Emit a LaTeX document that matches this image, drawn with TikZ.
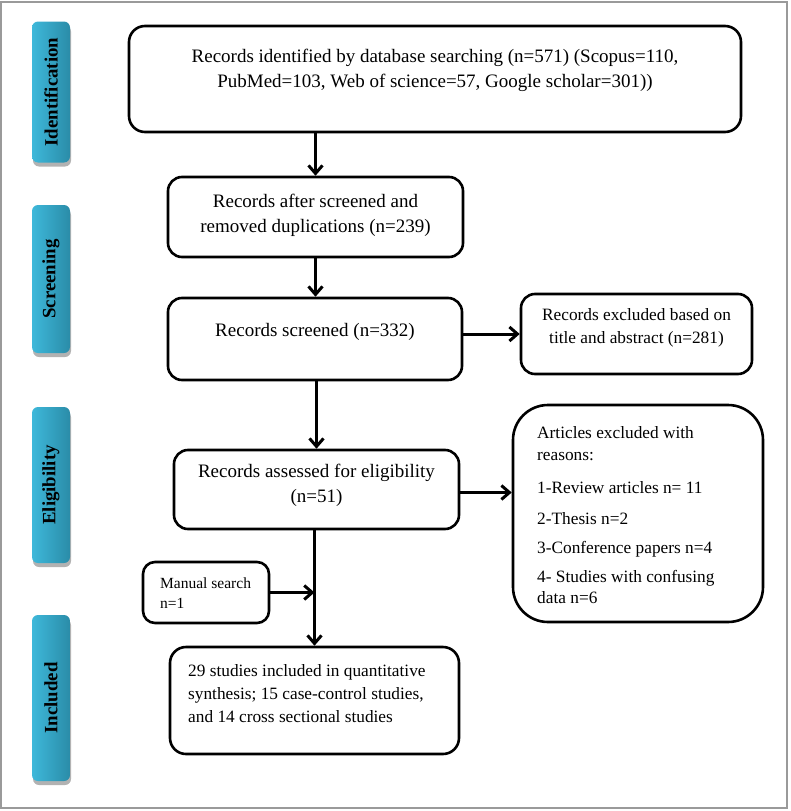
\documentclass[tikz,border=0pt]{standalone}
\usepackage{fontspec}
\setmainfont{Liberation Serif}
\usetikzlibrary{arrows.meta,shadows,calc}
\definecolor{phL}{HTML}{3EB8DA}
\definecolor{phR}{HTML}{2A8CA8}
\definecolor{framegray}{HTML}{9A9A9A}
\begin{document}
\begin{tikzpicture}[x=1pt,y=-1pt,
  box/.style={draw=black, line width=2.6pt, rounded corners=14pt, inner sep=0pt, fill=white},
  phase/.style={rounded corners=6pt, left color=phL, right color=phR, draw=none, minimum width=38pt, inner sep=0pt,
    drop shadow={shadow xshift=1pt, shadow yshift=-4pt, opacity=0.3, fill=black}},
  phtext/.style={rotate=90, inner sep=0pt, font=\fontsize{18.8}{20}\selectfont\bfseries},
  txt/.style={font=\fontsize{19}{25}\selectfont, align=center, inner sep=0pt},
  arr/.style={line width=3pt, -{Straight Barb[length=8pt,width=14pt]}}
]
\useasboundingbox (0,0) rectangle (790,811);
\draw[framegray, line width=1.5pt] (1,2) rectangle (787,808);

% phase labels
\node[phase, minimum height=141pt] (p1) at (51,92) {};
\node[phtext] (p1t) at (p1) {Identification};
\node[phase, minimum height=148pt] (p2) at (51,279) {};
\node[phtext] (p2t) at (p2) {Screening};
\node[phase, minimum height=156pt] (p3) at (51,485) {};
\node[phtext] (p3t) at (p3) {Eligibility};
\node[phase, minimum height=166pt] (p4) at (51,698) {};
\node[phtext] (p4t) at (p4) {Included};

% boxes
\node[box, rounded corners=16pt, minimum width=612pt, minimum height=106pt] (b1) at (435,79) {};
\node[box, minimum width=295pt, minimum height=80pt] (b2) at (315.5,217) {};
\node[box, minimum width=294pt, minimum height=82pt] (b3) at (315,339) {};
\node[box, minimum width=231pt, minimum height=80pt] (b4) at (636.5,334) {};
\node[box, minimum width=285pt, minimum height=79pt] (b5) at (316.5,489.5) {};
\node[box, rounded corners=35pt, minimum width=250pt, minimum height=217pt] (b7) at (638,513.5) {};
\node[box, rounded corners=12pt, minimum width=126pt, minimum height=61pt] (bm) at (206,592.5) {};
\node[box, rounded corners=16pt, minimum width=289pt, minimum height=107pt] (b6) at (314.5,700.5) {};

% texts
\node[txt] (t1) at (435,70.5) {Records identified by database searching (n=571) (Scopus=110,\\PubMed=103, Web of science=57, Google scholar=301))};
\node[txt] (t2) at (315.5,215.5) {Records after screened and\\removed duplications (n=239)};
\node[txt] (t3) at (315,332) {Records screened (n=332)};
\node[txt, font=\fontsize{17.3}{23}\selectfont] (t4) at (636.5,327.5) {Records excluded based on\\title and abstract (n=281)};
\node[txt] (t5) at (316.5,485.5) {Records assessed for eligibility\\(n=51)};
\node[txt, align=left, anchor=west, font=\fontsize{17.3}{21.5}\selectfont] (t7) at (537,515.5)
  {Articles excluded with\\reasons:\\[11.5pt]1-Review articles n= 11\\[9.5pt]2-Thesis n=2\\[7.5pt]3-Conference papers n=4\\[7.5pt]4- Studies with confusing\\data n=6};
\node[txt, align=left, anchor=west, font=\fontsize{15.5}{20}\selectfont] (tm) at (160,593) {Manual search\\n=1};
\node[txt, align=left, anchor=west, font=\fontsize{17.3}{23}\selectfont] (t6) at (188,694)
  {29 studies included in quantitative\\synthesis; 15 case-control studies,\\and 14 cross sectional studies};

% connectors
\draw[arr] (b1.south -| b2.north) -- (b2.north);
\draw[arr] (b2.south) -- (b2.south |- b3.north);
\draw[arr] (b3.east |- b4.west) -- (b4.west);
\draw[arr] (b3.south -| b5.north) -- (b5.north);
\draw[arr] ([yshift=-3pt]b5.east) -- ([yshift=-3pt]b5.east -| b7.west);
\draw[arr] (b5.south -| b6.north) -- (b6.north);
\draw[arr] (bm.east) -- (bm.east -| b6.north);
\end{tikzpicture}
\end{document}
